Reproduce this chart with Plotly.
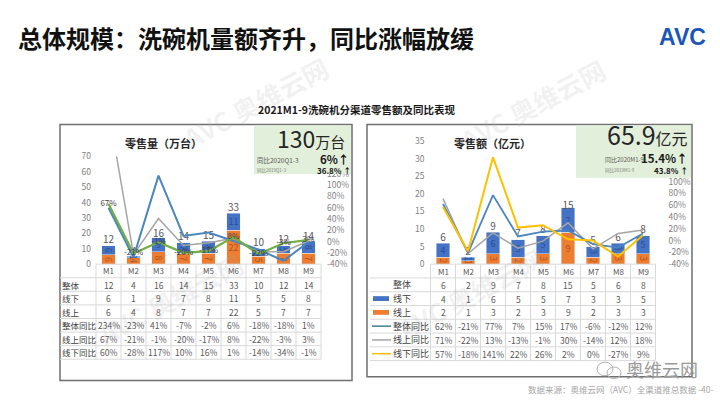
import plotly.graph_objects as go

W, H = 720, 405
FONT = "Noto Sans CJK SC"

months = ["M1", "M2", "M3", "M4", "M5", "M6", "M7", "M8", "M9"]

# 零售量（万台）
vol_total = [12, 4, 16, 14, 15, 33, 10, 12, 14]
vol_offline = [6, 1, 9, 7, 8, 11, 5, 5, 8]
vol_online = [6, 4, 8, 7, 7, 22, 5, 7, 7]
vol_yoy_total = [234, -23, 41, -7, -2, 6, -18, -18, 1]
vol_yoy_online = [67, -21, -1, -20, -17, 8, -22, -3, 3]
vol_yoy_offline = [60, -28, 117, 10, 16, 1, -14, -34, -1]

# 零售额（亿元）
amt_total = [6, 2, 9, 7, 8, 15, 5, 6, 8]
amt_offline = [4, 1, 6, 5, 5, 7, 3, 3, 5]
amt_online = [2, 1, 3, 2, 3, 9, 2, 3, 3]
amt_yoy_total = [62, -21, 77, 7, 15, 17, -6, -12, 12]
amt_yoy_online = [71, -22, 13, -13, -1, 30, -14, 12, 18]
amt_yoy_offline = [57, -18, 141, 22, 26, 2, 0, -27, 9]

pct_ticks_left = [-40, -20, 0, 20, 40, 60, 80, 100, 120]
pct_ticks_right = [-40, -20, 0, 20, 40, 60, 80, 100, 120]

BLUE = "#4472c4"
ORANGE = "#ed7d31"
GRAY = "#a5a5a5"
GREEN = "#70ad47"
LBLUE = "#4a86c0"
YELLOW = "#ffc000"


def px(x):
    return x / W


def py(y):
    return 1 - y / H


# plot-area geometry (pixels)
L = dict(x0=96, x1=321, top=154, bot=265)
R = dict(x0=430.5, x1=655.5, top=138, bot=265)

fig = go.Figure()


def add_chart(xa, ya, ya2, offline, online, total, lines):
    fig.add_bar(x=months, y=online, marker_color=ORANGE, xaxis=xa, yaxis=ya,
                text=online, textposition="inside", insidetextanchor="middle",
                constraintext="none",
                textfont=dict(color="#b4561c", size=9, family=FONT), width=0.55)
    fig.add_bar(x=months, y=offline, marker_color=BLUE, xaxis=xa, yaxis=ya,
                text=offline, textposition="inside", insidetextanchor="middle",
                constraintext="none",
                textfont=dict(color="#2e4f8f", size=9, family=FONT), width=0.55)
    fig.add_scatter(x=months, y=total, mode="text", text=[str(v) for v in total],
                    textposition="top center", xaxis=xa, yaxis=ya,
                    textfont=dict(color="#595959", size=10, family=FONT))
    for vals, col, wd, lab in lines:
        fig.add_scatter(x=months, y=vals, mode="lines+text" if lab else "lines",
                        text=[f"{v}%" for v in vals] if lab else None,
                        textposition="middle center",
                        textfont=dict(color="#3f3f3f", size=8, family=FONT),
                        line=dict(color=col, width=wd), xaxis=xa, yaxis=ya2)


add_chart("x", "y", "y2", vol_offline, vol_online, vol_total,
          [(vol_yoy_total, GRAY, 1.5, False),
           (vol_yoy_offline, LBLUE, 2, False),
           (vol_yoy_online, GREEN, 2.2, True)])
add_chart("x2", "y3", "y4", amt_offline, amt_online, amt_total,
          [(amt_yoy_online, GRAY, 1.5, False),
           (amt_yoy_total, LBLUE, 1.8, False),
           (amt_yoy_offline, YELLOW, 2, False)])

tickfont = dict(size=8.5, color="#7f7f7f", family=FONT)


def y2range(bot, top, pct_px):
    return [-40, -40 + (bot - top) / pct_px]


fig.update_layout(
    width=W, height=H, margin=dict(l=0, r=0, t=0, b=0),
    paper_bgcolor="white", plot_bgcolor="rgba(0,0,0,0)",
    showlegend=False, barmode="stack",
    font=dict(family=FONT),
    xaxis=dict(domain=[px(L["x0"]), px(L["x1"])], type="category", range=[-0.5, 8.5],
               showticklabels=False, showgrid=False, zeroline=False, showline=False),
    yaxis=dict(domain=[py(L["bot"]), py(L["top"])], range=[0, 70],
               tickvals=list(range(0, 71, 10)), showgrid=False, zeroline=False,
               tickfont=tickfont, ticklabelstandoff=4),
    yaxis2=dict(overlaying="y", side="right", anchor="x",
                range=y2range(L["bot"], L["top"], 93 / 160),
                tickvals=pct_ticks_left, ticktext=[f"{v}%" for v in pct_ticks_left],
                showgrid=False, zeroline=False, tickfont=tickfont, ticklabelstandoff=5),
    xaxis2=dict(domain=[px(R["x0"]), px(R["x1"])], type="category", range=[-0.5, 8.5],
                anchor="y3",
                showticklabels=False, showgrid=False, zeroline=False, showline=False),
    yaxis3=dict(domain=[py(R["bot"]), py(R["top"])], range=[0, 35], anchor="x2",
                tickvals=list(range(0, 36, 5)), showgrid=False, zeroline=False,
                tickfont=tickfont, ticklabelstandoff=5),
    yaxis4=dict(overlaying="y3", side="right", anchor="x2",
                range=y2range(R["bot"], R["top"], 0.608),
                tickvals=pct_ticks_right, ticktext=[f"{v}%" for v in pct_ticks_right],
                showgrid=False, zeroline=False, tickfont=tickfont, ticklabelstandoff=12),
)

shapes = []
annots = []


def rect(x0, y0, x1, y1, fill=None, line=None, lw=1, layer="above"):
    shapes.append(dict(type="rect", xref="paper", yref="paper",
                       x0=px(x0), x1=px(x1), y0=py(y1), y1=py(y0),
                       fillcolor=fill or "rgba(0,0,0,0)",
                       line=dict(color=line or "rgba(0,0,0,0)", width=lw if line else 0),
                       layer=layer))


def hline(x0, x1, y, color="#d9d9d9", w=1):
    shapes.append(dict(type="line", xref="paper", yref="paper", x0=px(x0), x1=px(x1),
                       y0=py(y), y1=py(y), line=dict(color=color, width=w), layer="above"))


def vline(x, y0, y1, color="#d9d9d9", w=1):
    shapes.append(dict(type="line", xref="paper", yref="paper", x0=px(x), x1=px(x),
                       y0=py(y0), y1=py(y1), line=dict(color=color, width=w), layer="above"))


def ann(x, y, text, size=9, color="#404040", xanchor="center", angle=0, family=FONT):
    annots.append(dict(x=px(x), y=py(y), xref="paper", yref="paper", text=text,
                       showarrow=False, xanchor=xanchor, yanchor="middle",
                       font=dict(size=size, color=color, family=family),
                       textangle=angle, borderpad=0))


# watermarks
wm = "rgba(170,170,170,0.16)"
for (x, y) in [(255, 98), (532, 100), (170, 300), (470, 295)]:
    ann(x, y, "<b>AVC 奥维云网</b>", size=26, color=wm, angle=-28)

# page title + logo
ann(17, 31, "<b>总体规模：洗碗机量额齐升，同比涨幅放缓</b>", size=24, color="#111111",
    xanchor="left")
ann(682, 31, "<b>AVC</b>", size=23, color="#1a56b8", family="Liberation Sans")
ann(357, 106, "<b>2021M1-9洗碗机分渠道零售额及同比表现</b>", size=10.5, color="#1a1a1a")

# panel frames
rect(60, 121, 352, 385, line="#6f6f6f", lw=1.5)
rect(367, 121, 692, 381, line="#6f6f6f", lw=1.5)

# green KPI boxes
rect(254, 122, 351, 172, fill="#e2efda")
rect(576, 122, 691, 176, fill="#e2efda")

ann(163, 140, "<b>零售量（万台）</b>", size=11, color="#262626")
ann(492, 140, "<b>零售额（亿元）</b>", size=11, color="#262626")

ann(346, 135, "<span style='font-size:23px'>130</span><span style='font-size:15px'>万台</span>",
    color="#262626", xanchor="right")
ann(256, 158, "同比2020Q1-3", size=6.5, color="#595959", xanchor="left")
ann(350, 157, "<b>6%↑</b>", size=11.5, color="#1a1a1a", xanchor="right")
ann(256, 168, "同比2019Q1-3", size=4.5, color="#7f7f7f", xanchor="left")
ann(352, 168, "<b>36.8% ↑</b>", size=8, color="#1a1a1a", xanchor="right")

ann(689, 131, "<span style='font-size:25px'>65.9</span><span style='font-size:16px'>亿元</span>",
    color="#262626", xanchor="right")
ann(604, 157, "同比2020M1-9", size=6, color="#595959", xanchor="left")
ann(689, 156, "<b>15.4%↑</b>", size=11.5, color="#1a1a1a", xanchor="right")
ann(604, 168, "同比2019M1-9", size=4.5, color="#7f7f7f", xanchor="left")
ann(689, 168, "<b>43.8% ↑</b>", size=8, color="#1a1a1a", xanchor="right")


def pct(vals):
    return [f"{v}%" for v in vals]


def table(x_lab0, x0, top, rh, rows, label_x, label_anchor, keys, label_size):
    colw = 25
    n = len(months)
    x1 = x0 + colw * n
    nrows = len(rows) + 1
    hline(x0, x1, top)
    for k in range(1, nrows + 1):
        hline(x_lab0, x1, top + rh * k)
    for i in range(n + 1):
        vline(x0 + colw * i, top, top + rh * nrows)
    for i, m in enumerate(months):
        ann(x0 + colw * (i + 0.5), top + rh * 0.5, m, size=8, color="#595959")
    for r, (lab, vals) in enumerate(rows):
        yc = top + rh * (r + 1.5)
        for i, v in enumerate(vals):
            ann(x0 + colw * (i + 0.5), yc, str(v), size=8.5, color="#595959")
        lx = label_x[r] if isinstance(label_x, list) else label_x
        ann(lx, yc, lab, size=label_size, color="#404040",
            xanchor=label_anchor[r] if isinstance(label_anchor, list) else label_anchor)
        if keys and keys[r]:
            kind, col = keys[r]
            if kind == "bar":
                rect(373, yc - 2.5, 389, yc + 2.5, fill=col)
            else:
                hline(372, 391, yc, color=col, w=1.5)


table(60, L["x0"], 265, 14,
      [("整体", vol_total), ("线下", vol_offline), ("线上", vol_online),
       ("整体同比", pct(vol_yoy_total)), ("线上同比", pct(vol_yoy_online)),
       ("线下同比", pct(vol_yoy_offline))],
      61, "left", None, 8.5)

table(370, R["x0"], 265, 14.2,
      [("整体", amt_total), ("线下", amt_offline), ("线上", amt_online),
       ("整体同比", pct(amt_yoy_total)), ("线上同比", pct(amt_yoy_online)),
       ("线下同比", pct(amt_yoy_offline))],
      [402, 392, 392, 392, 392, 392], ["center", "left", "left", "left", "left", "left"],
      [None, ("bar", BLUE), ("bar", ORANGE), ("line", "#3f7f8f"),
       ("line", GRAY), ("line", YELLOW)], 9)

# bottom-right brand mark and source
shapes.append(dict(type="circle", xref="paper", yref="paper",
                   x0=px(597), x1=px(613), y0=py(380), y1=py(366),
                   line=dict(color="#b0b0b0", width=1), layer="above"))
shapes.append(dict(type="circle", xref="paper", yref="paper",
                   x0=px(607), x1=px(621), y0=py(383), y1=py(371),
                   line=dict(color="#b0b0b0", width=1), layer="above"))
ann(662, 373, "奥维云网", size=18, color="#9a9a9a")
ann(715, 394, "数据来源：奥维云网（AVC）全渠道推总数据 -40-", size=8.5, color="#a6a6a6",
    xanchor="right")

fig.update_layout(shapes=shapes, annotations=annots)
fig.write_html("out.html", config={"displayModeBar": False},
               post_script="document.body.style.margin='0px';"
                           "document.body.style.overflow='hidden';")
